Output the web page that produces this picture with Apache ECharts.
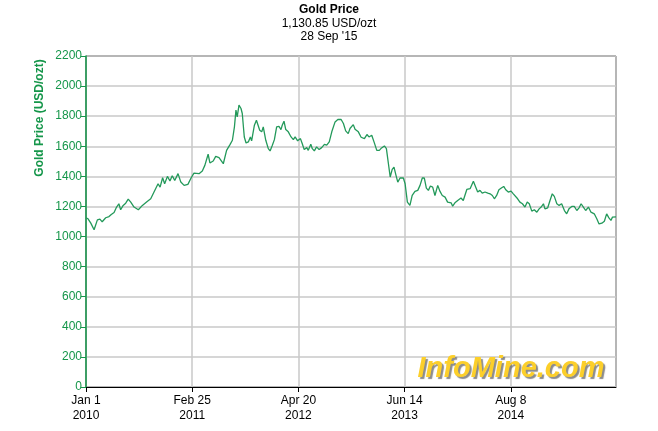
<!DOCTYPE html>
<html>
<head>
<meta charset="utf-8">
<script src="https://cdn.jsdelivr.net/npm/echarts@6/dist/echarts.min.js"></script>
<style>
  html, body { margin: 0; padding: 0; background: #fff; }
  #chart { width: 658px; height: 431px; }
</style>
</head>
<body>
<div id="chart"></div>
<script>
const dates = [
  '2010-01-01', '2010-01-09', '2010-01-20', '2010-02-02', '2010-02-15', '2010-02-25', '2010-03-06', '2010-03-20',
  '2010-04-02', '2010-04-11', '2010-04-22', '2010-05-02', '2010-05-11', '2010-05-18', '2010-05-28', '2010-06-07',
  '2010-06-17', '2010-06-27', '2010-07-10', '2010-07-27', '2010-08-12', '2010-08-31', '2010-09-14', '2010-09-27',
  '2010-10-13', '2010-10-21', '2010-10-31', '2010-11-08', '2010-11-19', '2010-11-29', '2010-12-08', '2010-12-18',
  '2010-12-31', '2011-01-11', '2011-01-24', '2011-02-08', '2011-02-21', '2011-03-04', '2011-03-24', '2011-04-06',
  '2011-04-16', '2011-04-29', '2011-05-06', '2011-05-19', '2011-05-29', '2011-06-11', '2011-06-15', '2011-06-28',
  '2011-07-11', '2011-07-25', '2011-08-03', '2011-08-11', '2011-08-17', '2011-08-22', '2011-08-29', '2011-09-06',
  '2011-09-11', '2011-09-19', '2011-09-26', '2011-10-05', '2011-10-13', '2011-10-18', '2011-10-29', '2011-11-06',
  '2011-11-11', '2011-11-19', '2011-11-27', '2011-12-03', '2011-12-13', '2011-12-23', '2011-12-30', '2012-01-08',
  '2012-01-16', '2012-01-25', '2012-02-03', '2012-02-11', '2012-02-16', '2012-02-23', '2012-03-01', '2012-03-11',
  '2012-03-22', '2012-03-31', '2012-04-07', '2012-04-17', '2012-04-28', '2012-05-05', '2012-05-13', '2012-05-23',
  '2012-05-29', '2012-06-08', '2012-06-14', '2012-06-22', '2012-07-01', '2012-07-11', '2012-07-21', '2012-08-01',
  '2012-08-10', '2012-08-20', '2012-08-30', '2012-09-12', '2012-09-23', '2012-10-06', '2012-10-15', '2012-10-24',
  '2012-11-03', '2012-11-10', '2012-11-17', '2012-11-23', '2012-11-30', '2012-12-13', '2012-12-24', '2013-01-06',
  '2013-01-16', '2013-01-24', '2013-02-04', '2013-02-14', '2013-02-24', '2013-03-06', '2013-03-15', '2013-03-26',
  '2013-04-03', '2013-04-11', '2013-04-18', '2013-04-26', '2013-05-03', '2013-05-11', '2013-05-18', '2013-05-27',
  '2013-06-09', '2013-06-16', '2013-06-25', '2013-07-05', '2013-07-14', '2013-07-25', '2013-08-05', '2013-08-14',
  '2013-08-23', '2013-08-31', '2013-09-08', '2013-09-16', '2013-09-24', '2013-10-03', '2013-10-12', '2013-10-23',
  '2013-11-01', '2013-11-10', '2013-11-21', '2013-12-01', '2013-12-15', '2013-12-21', '2013-12-30', '2014-01-10',
  '2014-01-23', '2014-02-01', '2014-02-15', '2014-02-28', '2014-03-13', '2014-03-22', '2014-03-30', '2014-04-08',
  '2014-04-17', '2014-04-28', '2014-05-09', '2014-05-18', '2014-05-27', '2014-06-04', '2014-06-13', '2014-06-22',
  '2014-07-03', '2014-07-11', '2014-07-19', '2014-07-29', '2014-08-09', '2014-08-18', '2014-08-25', '2014-09-04',
  '2014-09-13', '2014-09-23', '2014-10-03', '2014-10-12', '2014-10-20', '2014-10-30', '2014-11-09', '2014-11-19',
  '2014-11-28', '2014-12-06', '2014-12-15', '2014-12-21', '2015-01-01', '2015-01-10', '2015-01-19', '2015-01-27',
  '2015-02-06', '2015-02-15', '2015-02-25', '2015-03-08', '2015-03-17', '2015-03-26', '2015-04-06', '2015-04-16',
  '2015-04-26', '2015-05-05', '2015-05-13', '2015-05-22', '2015-05-31', '2015-06-11', '2015-06-21', '2015-07-04',
  '2015-07-14', '2015-07-23', '2015-08-03', '2015-08-13', '2015-08-22', '2015-08-31', '2015-09-08', '2015-09-14',
  '2015-09-19', '2015-09-28'
]
const prices = [
  1125, 1118, 1089, 1045, 1111, 1116, 1098, 1125,
  1133, 1147, 1160, 1196, 1218, 1178, 1207, 1222,
  1249, 1229, 1196, 1178, 1207, 1233, 1251, 1296,
  1351, 1329, 1391, 1351, 1400, 1369, 1404, 1373,
  1418, 1362, 1340, 1347, 1391, 1422, 1418, 1436,
  1473, 1547, 1489, 1502, 1533, 1524, 1529, 1484,
  1573, 1613, 1640, 1729, 1840, 1796, 1873, 1851,
  1818, 1662, 1622, 1629, 1662, 1636, 1740, 1773,
  1784, 1707, 1696, 1729, 1640, 1584, 1569, 1607,
  1644, 1729, 1733, 1711, 1740, 1767, 1711, 1696,
  1662, 1644, 1662, 1636, 1651, 1618, 1578, 1591,
  1573, 1613, 1584, 1569, 1596, 1578, 1591, 1613,
  1607, 1629, 1696, 1762, 1778, 1778, 1751, 1702,
  1684, 1718, 1713, 1744, 1713, 1696, 1660, 1651,
  1678, 1662, 1673, 1624, 1573, 1573, 1589, 1602,
  1584, 1484, 1396, 1447, 1462, 1407, 1362, 1389,
  1389, 1351, 1229, 1207, 1273, 1300, 1307, 1340,
  1389, 1389, 1322, 1307, 1336, 1329, 1273, 1340,
  1300, 1273, 1262, 1229, 1224, 1202, 1224, 1240,
  1256, 1240, 1313, 1318, 1367, 1330, 1296, 1307,
  1289, 1296, 1289, 1284, 1273, 1251, 1273, 1311,
  1324, 1333, 1311, 1296, 1302, 1284, 1289, 1251,
  1229, 1218, 1196, 1229, 1218, 1169, 1178, 1162,
  1184, 1196, 1218, 1184, 1191, 1240, 1284, 1267,
  1218, 1207, 1218, 1173, 1151, 1184, 1200, 1200,
  1173, 1191, 1218, 1196, 1173, 1196, 1162, 1151,
  1118, 1084, 1089, 1102, 1151, 1124, 1107, 1129,
  1140, 1131
]
const startDate = '2010-01-01'
const endDate = '2015-09-28'
const tickStepDays = 420
const yTicks = [0, 2200, 200] // min, max, step

const green = '#15964a'
const lineGreen = '#23995a'
const font = 'Liberation Sans, Arial, sans-serif'
const monthNames = ['Jan', 'Feb', 'Mar', 'Apr', 'May', 'Jun', 'Jul', 'Aug', 'Sep', 'Oct', 'Nov', 'Dec']
const DAY = 86400000
const t0 = Date.parse(startDate)
const dayIndex = (d) => Math.round((Date.parse(d) - t0) / DAY)

const seriesData = dates.map((d, i) => [dayIndex(d), prices[i]])

const chart = echarts.init(document.getElementById('chart'))
chart.setOption({
  animation: false,
  backgroundColor: '#fff',
  textStyle: { fontFamily: font },
  title: {
    left: 'center',
    top: -2,
    text: 'Gold Price',
    subtext: '1,130.85 USD/ozt\n28 Sep \'15',
    itemGap: 0,
    textStyle: { fontSize: 12, fontWeight: 'bold', color: '#000', fontFamily: font, lineHeight: 14 },
    subtextStyle: { fontSize: 12, color: '#000', lineHeight: 13, fontFamily: font }
  },
  grid: {
    left: 86, right: 42, top: 56, bottom: 44,
    show: true, borderColor: '#000', borderWidth: 1, backgroundColor: '#fff'
  },
  xAxis: {
    type: 'value',
    min: 0,
    max: dayIndex(endDate),
    interval: tickStepDays,
    axisLine: { lineStyle: { color: '#000', width: 1 } },
    axisTick: { show: true, length: 5, lineStyle: { color: '#000' } },
    splitLine: { show: true, lineStyle: { color: '#c8c8c8', width: 1.5 } },
    axisLabel: {
      color: '#000',
      fontSize: 12,
      lineHeight: 15,
      margin: 6,
      showMaxLabel: false,
      formatter: (v) => {
        if (v % tickStepDays !== 0) return ''
        const d = new Date(t0 + v * DAY)
        return monthNames[d.getUTCMonth()] + ' ' + d.getUTCDate() + '\n' + d.getUTCFullYear()
      }
    }
  },
  yAxis: {
    type: 'value',
    min: yTicks[0],
    max: yTicks[1],
    interval: yTicks[2],
    axisLine: { show: true, lineStyle: { color: green, width: 1.5 } },
    axisTick: { show: true, length: 5, lineStyle: { color: green } },
    splitLine: { show: true, lineStyle: { color: '#c8c8c8', width: 1.5 } },
    axisLabel: { color: green, fontSize: 12, margin: 4, formatter: (v) => String(v) }
  },
  graphic: [
    {
      type: 'text',
      x: 40,
      y: 118,
      rotation: Math.PI / 2,
      style: {
        text: 'Gold Price (USD/ozt)',
        fill: green,
        fontSize: 12,
        fontWeight: 'bold',
        fontFamily: font,
        align: 'center',
        verticalAlign: 'middle'
      }
    },
    {
      type: 'text',
      x: 511,
      y: 369,
      z: 1,
      style: {
        text: 'InfoMine.com',
        fill: '#fccf2a',
        fontSize: 29,
        fontWeight: 'bold',
        fontStyle: 'italic',
        fontFamily: font,
        align: 'center',
        verticalAlign: 'middle',
        textShadowColor: 'rgba(90,90,90,0.7)',
        textShadowOffsetX: 2,
        textShadowOffsetY: 2,
        textShadowBlur: 1
      }
    }
  ],
  series: [
    {
      name: 'Gold Price',
      type: 'line',
      data: seriesData,
      showSymbol: false,
      z: 3,
      lineStyle: { color: lineGreen, width: 1.3 }
    }
  ]
})
</script>
</body>
</html>
